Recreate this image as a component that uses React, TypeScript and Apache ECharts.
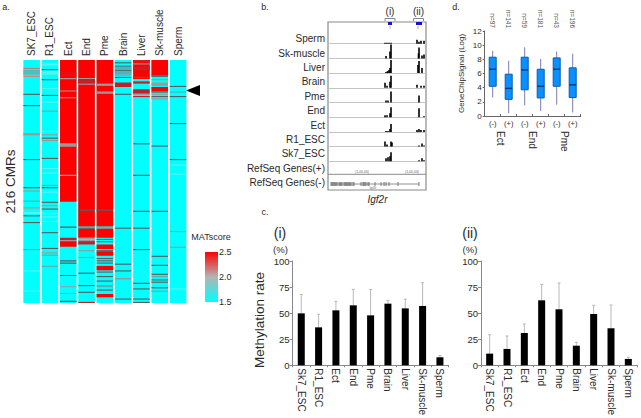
import React, { useEffect, useRef } from "react";
import * as echarts from "echarts";

const FONT = "'Liberation Sans', Arial, sans-serif";
const INK = "#2a2a2a";

// ---------- panel a: MATscore per CMR, as [firstRow, endRow, score] runs
const cellTypes = ["SK7_ESC", "R1_ESC", "Ect", "End", "Pme", "Brain", "Liver", "Sk-muscle", "Sperm"];
const rowCount = 216;
const sk7EscRuns = [[0,216,1.5],[7,8,2.1],[9,10,1.75],[10,11,1.9],[11,12,1.75],[12,13,1.9],[14,15,2.2],[30,31,2],[40,41,2],[65,67,1.9],[88,89,2],[113,114,2],[116,117,1.9],[125,126,1.75],[131,132,1.9],[135,137,1.6],[138,139,2],[144,145,2],[168,169,2.1],[187,188,1.6],[205,206,1.6]];
const r1EscRuns = [[0,216,1.5],[3,5,1.6],[8,9,2],[10,13,1.6],[17,18,2],[25,26,1.6],[31,32,2],[37,38,1.6],[45,46,1.9],[63,64,1.6],[66,67,1.9],[69,70,2],[71,72,1.9],[87,88,2],[96,97,1.6],[100,101,1.6],[111,112,1.75],[113,114,2],[117,118,1.6],[126,127,2],[129,130,1.9],[132,133,2],[136,137,1.6],[139,140,1.6],[143,144,1.6],[153,154,2],[167,168,2],[171,172,1.9],[173,174,1.75],[183,184,1.75]];
const ectRuns = [[0,216,1.5],[0,126,2.5],[11,12,2.3],[13,14,2.3],[16,17,1.9],[27,28,1.9],[33,34,1.9],[74,77,1.9],[102,103,1.9],[148,149,2],[158,160,2.3],[160,161,1.9],[161,166,2.5],[178,179,2],[180,181,2],[191,192,2],[201,202,1.9],[207,208,1.9],[214,215,2]];
const endRuns = [[0,216,1.5],[0,148,2.5],[16,17,1.9],[17,21,2.3],[21,22,1.9],[133,134,2],[149,150,2],[150,158,2.5],[158,159,1.9],[160,161,1.9],[161,164,2.3],[169,170,1.9],[175,176,1.9],[189,190,2],[200,201,2],[206,207,2],[215,216,2.3]];
const pmeRuns = [[0,216,1.5],[0,148,2.5],[21,23,1.9],[28,30,1.9],[133,134,2],[148,149,1.75],[149,150,1.9],[150,158,2.5],[159,160,2],[161,162,2],[164,168,2.5],[169,170,2],[170,174,2.5],[176,177,2],[178,179,2],[180,181,2],[183,187,2.5],[188,189,2],[192,193,2],[196,197,2],[200,202,1.75],[204,205,2],[208,211,2.5]];
const brainRuns = [[0,216,1.5],[2,3,2],[5,6,2],[6,9,1.75],[9,10,2],[10,13,1.75],[13,14,1.9],[15,16,2],[20,24,2.3],[30,31,2],[149,150,2],[181,182,2],[187,188,2],[194,195,2.1],[212,213,2]];
const liverRuns = [[0,216,1.5],[0,17,2.5],[0,2,2.3],[3,4,1.9],[6,9,2.3],[15,16,2],[19,21,2.3],[26,30,2.3],[30,31,1.9],[32,33,2.3],[74,75,2],[102,103,2],[134,135,2],[149,150,2],[168,169,2],[198,199,2],[203,204,2],[212,213,2],[215,216,2]];
const skMuscleRuns = [[0,216,1.5],[0,14,2.5],[14,15,2],[17,18,1.9],[20,23,1.9],[24,28,2.5],[28,29,2],[30,31,1.9],[32,33,2],[34,35,1.9],[76,77,2],[134,135,2],[174,175,2],[182,183,2],[190,191,2],[192,193,1.75],[195,196,2],[197,198,2],[202,203,2],[205,206,1.75]];
const spermRuns = [[0,216,1.5],[23,24,2],[28,29,1.75],[32,33,2],[56,57,2],[88,89,2],[93,94,1.6],[101,102,1.6],[152,153,1.9],[166,167,1.9],[203,204,1.6]];
const columnRuns = [sk7EscRuns, r1EscRuns, ectRuns, endRuns, pmeRuns, brainRuns, liverRuns, skMuscleRuns, spermRuns];
const scoreColors: Record<string, string> = { "1.5": "#00ffff", "1.6": "#55f2f2", "1.75": "#4fb4b4", "1.9": "#9a9a9a", "2": "#566262", "2.1": "#b08080", "2.2": "#d88080", "2.3": "#c4202a", "2.5": "#ff0000" };
const colorbarRange = [1.5, 2.5];

// ---------- panel b: signal tracks
const trackNames = ["Sperm", "Sk-muscle", "Liver", "Brain", "Pme", "End", "Ect", "R1_ESC", "Sk7_ESC"];
const trackLabels = [...trackNames, "RefSeq Genes(+)", "RefSeq Genes(-)"];
const spermPeaks = [[56,1],[58,1],[60,1],[62,1],[88,4],[90,2],[92,3],[95,3]];
const skMusclePeaks = [[57,2.5],[62,14],[61,7],[90,11],[89.5,5],[93,3],[95,4]];
const liverPeaks = [[57,1],[58.5,2],[60,3],[61,5],[62,13],[90,12],[89,8],[93,5]];
const brainPeaks = [[56,5],[58,2],[61,6],[62,12],[88,3],[92,2],[95,2]];
const pmePeaks = [[57,2],[59,2],[62,11],[90,7]];
const endPeaks = [[56,2],[58,2],[61,4],[62,10],[90,9],[95,1]];
const ectPeaks = [[57,1],[59,1],[61,3],[62,8],[88,2],[90,3],[92,2],[95,2]];
const r1Peaks = [[56,5],[58,2],[62,5],[63,4],[90,1],[93,3],[95,1]];
const sk7Peaks = [[57,3],[59,4],[61,5],[62,9],[90,1],[93,3],[95,1]];
const trackPeaks = [spermPeaks, skMusclePeaks, liverPeaks, brainPeaks, pmePeaks, endPeaks, ectPeaks, r1Peaks, sk7Peaks];
const exonPositions = [2,3,4,5,6,7,8,10,11,12,13,15,16,17,18,19,20,21,22,24,25,32,34,35,36,37,39,40,46,52,55,57,60,69,90];
const regionLabels = ["(i)", "(ii)"];

// ---------- panel c
const sampleNames = ["Sk7_ESC", "R1_ESC", "Ect", "End", "Pme", "Brain", "Liver", "Sk-muscle", "Sperm"];
const regionIRates = [49.8, 36.4, 52.7, 57.5, 47.9, 59.1, 54.6, 56.9, 7.7];
const regionIErrorTops = [68, 48.9, 61.3, 72.8, 72.8, 62.3, 63.3, 79.2, 9.3];
const regionIIRates = [11.2, 15.7, 31, 62.3, 53.7, 18.8, 49.2, 35.5, 6.1];
const regionIIErrorTops = [29.4, 28.1, 39.6, 77.6, 78.9, 22, 57.5, 57.8, 7.7];

// ---------- panel d
const boxCategories = ["(-)", "(+)", "(-)", "(+)", "(-)", "(+)"];
const boxCounts = ["n=97", "n=141", "n=59", "n=181", "n=43", "n=196"];
const boxGroups = ["Ect", "End", "Pme"];
const boxLows = [2.6, 0.4, 1.5, 0.7, 1.6, 0.5];
const boxQ1s = [4.2, 2.35, 3.7, 2.55, 4.2, 2.6];
const boxMedians = [6.6, 3.9, 6.5, 4.2, 6.6, 4.4];
const boxQ3s = [8.3, 5.9, 8.3, 6.6, 8.2, 6.8];
const boxHighs = [9.2, 7.8, 9.7, 8.05, 9.1, 8.8];

function label(text: string, x: number, y: number, size: number, extra: any = {}) {
  const { rotation, fill, fontStyle, align } = extra;
  return {
    type: "text", x, y, rotation: rotation || 0, silent: true,
    style: { text, fill: fill || INK, font: `${fontStyle || "normal"} ${size}px ${FONT}`, textAlign: align || "center", textVerticalAlign: "middle" },
  };
}
const seg = (x1: number, y1: number, x2: number, y2: number, stroke = "#888", lineWidth = 1) => ({
  type: "line", silent: true, shape: { x1, y1, x2, y2 }, style: { stroke, lineWidth },
});

function buildOption() {
  const grid: any[] = [], xAxis: any[] = [], yAxis: any[] = [], series: any[] = [];
  const addGrid = (g: any) => { grid.push({ containLabel: false, ...g }); return grid.length - 1; };
  const axisFont = { fontFamily: FONT, color: INK };

  // panel a
  const ga = addGrid({ left: 22.5, top: 60, width: 164.7, height: 243 });
  xAxis.push({ gridIndex: ga, type: "category", position: "top", data: cellTypes, axisLine: { show: false }, axisTick: { show: false }, axisLabel: { ...axisFont, fontSize: 10, rotate: 90, margin: 4, interval: 0 } });
  yAxis.push({ gridIndex: ga, type: "value", inverse: true, min: 0, max: rowCount, axisLine: { show: false }, axisTick: { show: false }, axisLabel: { show: false }, splitLine: { show: false }, name: "216 CMRs", nameLocation: "middle", nameGap: 5, nameTextStyle: { fontFamily: FONT, fontSize: 13.5, color: INK } });
  series.push({
    type: "custom", xAxisIndex: xAxis.length - 1, yAxisIndex: yAxis.length - 1, silent: true,
    encode: { x: 0, y: [1, 2] },
    data: columnRuns.flatMap((runs, c) => runs.map((r) => [c, r[0], r[1], r[2]])),
    renderItem(_: any, api: any) {
      const a = api.coord([api.value(0), api.value(1)]);
      const b = api.coord([api.value(0), api.value(2)]);
      const w = api.size([1, 0])[0] - 1.7;
      return { type: "rect", shape: { x: a[0] - w / 2, y: a[1], width: w, height: b[1] - a[1] }, style: { fill: scoreColors[String(api.value(3))] } };
    },
  });

  // colour bar
  const gb = addGrid({ left: 205, top: 252, width: 13, height: 50 });
  xAxis.push({ gridIndex: gb, type: "category", data: ["MATscore"], show: false });
  yAxis.push({ gridIndex: gb, type: "value", position: "right", min: colorbarRange[0], max: colorbarRange[1], interval: 0.5, axisLine: { show: false }, axisTick: { show: false }, splitLine: { show: false }, axisLabel: { ...axisFont, fontSize: 9, margin: 1, formatter: (v: number) => v.toFixed(1) } });
  series.push({
    type: "custom", xAxisIndex: xAxis.length - 1, yAxisIndex: yAxis.length - 1, silent: true,
    encode: { x: 0, y: [1, 2] }, data: [[0, colorbarRange[0], colorbarRange[1]]],
    renderItem(_: any, api: any) {
      const a = api.coord([0, api.value(2)]);
      const b = api.coord([0, api.value(1)]);
      const w = api.size([1, 0])[0];
      return { type: "rect", shape: { x: a[0] - w / 2, y: a[1], width: w, height: b[1] - a[1] }, style: { fill: new echarts.graphic.LinearGradient(0, 0, 0, 1, [{ offset: 0, color: "#ff0000" }, { offset: 0.5, color: "#b4b4b4" }, { offset: 1, color: "#00ffff" }]) } };
    },
  });

  // panel b labels
  const gl = addGrid({ left: 328, top: 31.5, width: 98, height: 158.4 });
  xAxis.push({ gridIndex: gl, type: "value", show: false, min: 0, max: 98 });
  yAxis.push({ gridIndex: gl, type: "category", inverse: true, data: trackLabels, axisLine: { show: false }, axisTick: { show: false }, axisLabel: { ...axisFont, fontSize: 10, margin: 3, interval: 0 } });

  // panel b tracks
  trackPeaks.forEach((peaks) => {
    const i = trackPeaks.indexOf(peaks);
    const gt = addGrid({ left: 329, top: 43.7 + 14.7 * i - 14, width: 97, height: 14 });
    xAxis.push({ gridIndex: gt, type: "value", min: 0, max: 97, axisLine: { show: true, onZero: false, lineStyle: { color: "#c4c4c4", width: 1 } }, axisTick: { show: false }, axisLabel: { show: false }, splitLine: { show: false } });
    yAxis.push({ gridIndex: gt, type: "value", min: 0, max: 14, show: false });
    series.push({ type: "bar", name: trackNames[i], silent: true, xAxisIndex: xAxis.length - 1, yAxisIndex: yAxis.length - 1, barWidth: 1.6, itemStyle: { color: "#000" }, data: peaks });
  });

  // gene model
  const gg = addGrid({ left: 329, top: 181, width: 97, height: 6 });
  xAxis.push({ gridIndex: gg, type: "value", min: 0, max: 97, axisLine: { show: false }, axisTick: { show: false }, axisLabel: { show: false }, splitLine: { show: false } });
  yAxis.push({ gridIndex: gg, type: "value", min: -1, max: 1, show: false });
  series.push({ type: "line", silent: true, xAxisIndex: xAxis.length - 1, yAxisIndex: yAxis.length - 1, symbol: "none", lineStyle: { color: "#777", width: 0.8 }, data: [[exonPositions[0], 0], [exonPositions[exonPositions.length - 1], 0]] });
  series.push({ type: "scatter", silent: true, xAxisIndex: xAxis.length - 1, yAxisIndex: yAxis.length - 1, symbol: "rect", symbolSize: [1, 4], itemStyle: { color: "#555" }, data: exonPositions.map((p) => [p, 0]) });

  // panel c
  const barPanel = (left: number, rates: number[], tops: number[]) => {
    const g = addGrid({ left, top: 261, width: 156, height: 104.3 });
    xAxis.push({ gridIndex: g, type: "category", data: sampleNames, axisLine: { lineStyle: { color: "#888" } }, axisTick: { show: true, alignWithLabel: false, length: 2, lineStyle: { color: "#888" } }, axisLabel: { ...axisFont, fontSize: 10, rotate: -90, margin: 3, interval: 0 } });
    yAxis.push({ gridIndex: g, type: "value", min: 0, max: 100, interval: 25, axisLine: { show: true, lineStyle: { color: "#888" } }, axisTick: { show: true, length: 3, lineStyle: { color: "#888" } }, splitLine: { show: false }, axisLabel: { ...axisFont, fontSize: 9.5, margin: 3 } });
    const xi = xAxis.length - 1, yi = yAxis.length - 1;
    series.push({
      type: "custom", silent: true, xAxisIndex: xi, yAxisIndex: yi, encode: { x: 0, y: [1, 2] }, z: 1,
      data: rates.map((r, i) => [i, r, tops[i]]),
      renderItem(_: any, api: any) {
        const a = api.coord([api.value(0), api.value(1)]);
        const b = api.coord([api.value(0), api.value(2)]);
        const style = { stroke: "#b8b8b8", lineWidth: 1 };
        return { type: "group", children: [
          { type: "line", shape: { x1: a[0], y1: a[1], x2: b[0], y2: b[1] }, style },
          { type: "line", shape: { x1: b[0] - 1.5, y1: b[1], x2: b[0] + 1.5, y2: b[1] }, style },
        ] };
      },
    });
    series.push({ type: "bar", silent: true, xAxisIndex: xi, yAxisIndex: yi, barWidth: 7, z: 2, itemStyle: { color: "#000" }, data: rates });
  };
  barPanel(292.6, regionIRates, regionIErrorTops);
  barPanel(481, regionIIRates, regionIIErrorTops);

  // panel d
  const gd = addGrid({ left: 484.7, top: 31, width: 96, height: 85 });
  xAxis.push({ gridIndex: gd, type: "category", data: boxCategories, axisLine: { lineStyle: { color: "#666" } }, axisTick: { show: true, inside: true, length: 2, lineStyle: { color: "#666" } }, axisLabel: { ...axisFont, fontSize: 7.5, margin: 3, interval: 0 } });
  yAxis.push({ gridIndex: gd, type: "value", min: 0, max: 12, interval: 2, axisLine: { show: true, lineStyle: { color: "#666" } }, axisTick: { show: true, length: 2, lineStyle: { color: "#666" } }, splitLine: { show: false }, axisLabel: { ...axisFont, fontSize: 8, margin: 3 }, name: "GeneChipSignal (Log)", nameLocation: "middle", nameGap: 19, nameTextStyle: { fontFamily: FONT, fontSize: 8, color: INK } });
  const boxXi = xAxis.length - 1, boxYi = yAxis.length - 1;
  xAxis.push({ gridIndex: gd, type: "category", position: "top", data: boxCounts, axisLine: { show: false }, axisTick: { show: false }, axisLabel: { ...axisFont, fontSize: 6.5, color: "#555", rotate: 90, margin: 3, interval: 0 } });
  xAxis.push({ gridIndex: gd, type: "category", position: "bottom", offset: 13, data: boxGroups, axisLine: { show: false }, axisTick: { show: false }, axisLabel: { ...axisFont, fontSize: 10, rotate: -90, margin: 2, interval: 0 } });
  series.push({
    type: "custom", silent: true, xAxisIndex: boxXi, yAxisIndex: boxYi, encode: { x: 0, y: [1, 2, 3, 4, 5] },
    data: boxLows.map((l, i) => [i, l, boxQ1s[i], boxMedians[i], boxQ3s[i], boxHighs[i]]),
    renderItem(_: any, api: any) {
      const i = api.value(0);
      const [lo, q1, med, q3, hi] = [1, 2, 3, 4, 5].map((d) => api.coord([i, api.value(d)]));
      const w = 7;
      return { type: "group", children: [
        { type: "line", shape: { x1: lo[0], y1: lo[1], x2: hi[0], y2: hi[1] }, style: { stroke: "#7c7cae", lineWidth: 1 } },
        { type: "rect", shape: { x: q3[0] - w / 2, y: q3[1], width: w, height: q1[1] - q3[1] }, style: { fill: "#0a90ff", stroke: "#0d5cae", lineWidth: 1 } },
        { type: "line", shape: { x1: med[0] - w / 2, y1: med[1], x2: med[0] + w / 2, y2: med[1] }, style: { stroke: "#0b3a78", lineWidth: 1.4 } },
      ] };
    },
  });

  const graphic = [
    label("a.", 6, 7, 9),
    label("b.", 265, 7, 9),
    label("c.", 265, 212, 9),
    label("d.", 456, 7, 9),
    label("MATscore", 211, 237, 9),
    { type: "polygon", silent: true, shape: { points: [[186, 90.5], [200, 85], [200, 96]] }, style: { fill: "#000" } },
    { type: "rect", silent: true, shape: { x: 328, y: 22, width: 98, height: 168 }, style: { fill: "none", stroke: "#8a8a8a", lineWidth: 1.2 } },
    seg(328, 174.3, 426, 174.3, "#8a8a8a", 1),
    label(regionLabels[0], 390, 11, 10),
    label(regionLabels[1], 418.5, 11, 10),
    seg(385, 18.5, 395, 18.5), seg(385, 18.5, 385, 21), seg(395, 18.5, 395, 21),
    seg(413.5, 18.5, 423.5, 18.5), seg(413.5, 18.5, 413.5, 21), seg(423.5, 18.5, 423.5, 21),
    { type: "rect", silent: true, shape: { x: 388, y: 22, width: 4, height: 3 }, style: { fill: "#1414d0" } },
    { type: "rect", silent: true, shape: { x: 416, y: 22, width: 6, height: 3 }, style: { fill: "#1414d0" } },
    seg(390, 26, 390, 29, "#999", 0.8), seg(418, 26, 418, 29, "#999", 0.8),
    label("|1,00,00|", 362, 171.5, 3.5, { fill: "#666" }),
    label("|1,00,00|", 412, 171.5, 3.5, { fill: "#666" }),
    label("Igf2r", 373, 188, 3.5, { fill: "#666" }),
    label("Igf2r", 377.5, 199, 10, { fontStyle: "italic" }),
    label("Methylation rate", 259, 320, 13.5, { rotation: Math.PI / 2 }),
    label("(i)", 280, 233, 14),
    label("(%)", 280.5, 249, 9.5),
    label("(ii)", 470, 233, 14),
    label("(%)", 470, 249, 9.5),
  ];

  return { animation: false, backgroundColor: "#fff", grid, xAxis, yAxis, series, graphic };
}

export default function App() {
  const ref = useRef<HTMLDivElement>(null);
  useEffect(() => {
    const chart = echarts.init(ref.current!, null, { renderer: "svg", width: 641, height: 418 });
    chart.setOption(buildOption() as any);
    return () => chart.dispose();
  }, []);
  return <div ref={ref} style={{ position: "fixed", left: 0, top: 0, width: 641, height: 418, background: "#fff" }} />;
}
